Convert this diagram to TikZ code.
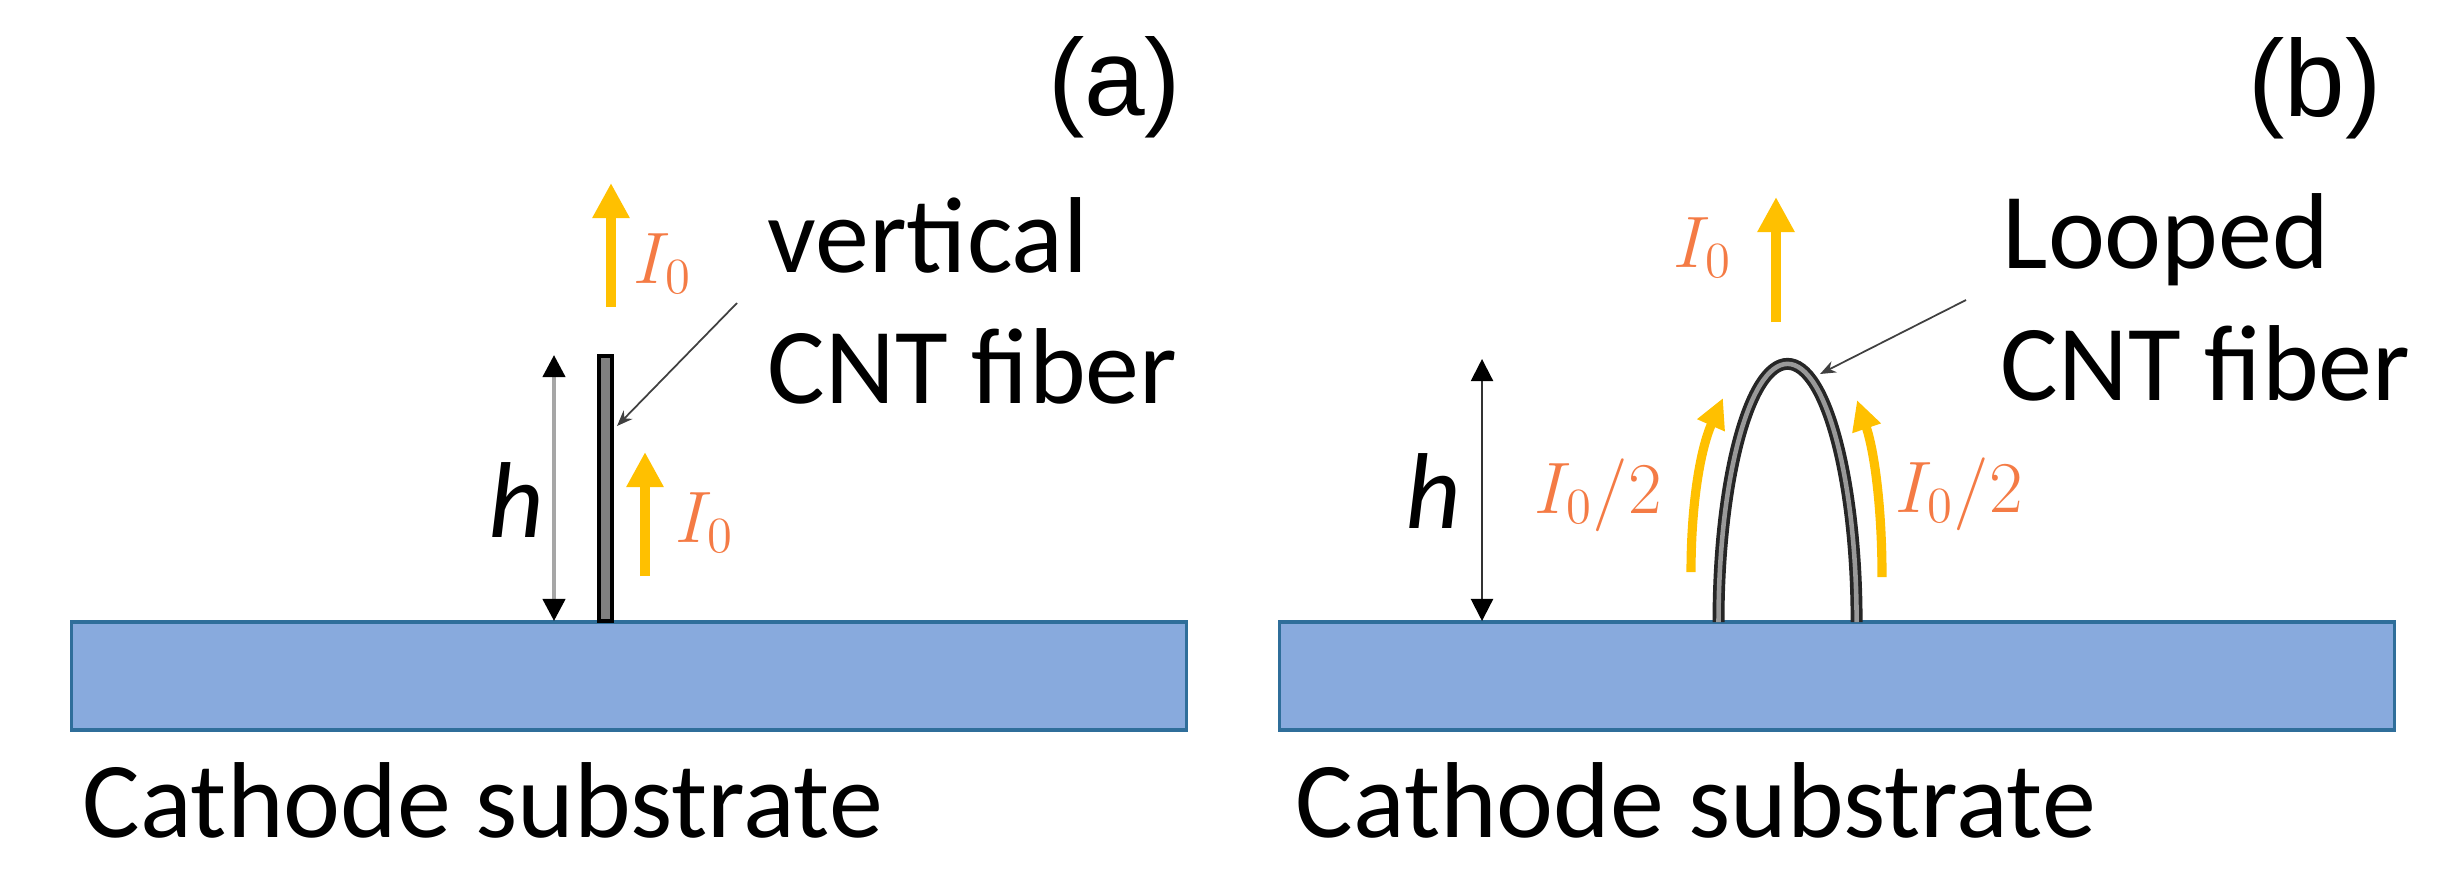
\documentclass[tikz,border=0pt]{standalone}
\usepackage[no-math]{fontspec}
\setmainfont{Carlito}
\newfontfamily\arialf{Liberation Sans}
\usetikzlibrary{arrows.meta}
\definecolor{subfill}{HTML}{88AADD}
\definecolor{subedge}{HTML}{2F6E9A}
\definecolor{gold}{HTML}{FFC000}
\definecolor{ortext}{HTML}{F47B45}
\begin{document}
\begin{tikzpicture}[x=0.01cm,y=-0.01cm,
  substrate/.style={draw=subedge, fill=subfill, line width=0.9pt, minimum width=11.14cm, minimum height=1.08cm, inner sep=0pt},
  lbl/.style={font=\fontsize{30.7}{37}\selectfont, inner sep=0pt, anchor=base west},
  hlbl/.style={font=\fontsize{30.7}{37}\selectfont\itshape, inner sep=0pt, anchor=base west},
  paneltag/.style={font=\arialf\fontsize{31}{37}\selectfont, inner sep=0pt, anchor=base east},
  cur/.style={text=ortext, font=\fontsize{21.5}{26}\selectfont, inner sep=0pt, anchor=base west},
  goldarrow/.style={draw=gold, line width=3.1pt, -{Triangle[width=10pt,length=10pt]}},
  goldcurve/.style={draw=gold, line width=2.6pt, -{Triangle[width=8pt,length=8.5pt]}},
  pointer/.style={draw=black!75, line width=0.5pt, -{Stealth[length=4.5pt,width=3.5pt]}},
  harrow/.style={line width=1.2pt, {Triangle[width=6.3pt,length=6.3pt,black]}-{Triangle[width=6.3pt,length=6.3pt,black]}},
  fiberbox/.style={draw=black, fill=black!50, line width=1pt, minimum width=0.13cm, minimum height=2.65cm, inner sep=0pt},
  loopouter/.style={line width=3.4pt, draw=black!85},
  loopinner/.style={line width=1.3pt, draw=black!40},
]
\useasboundingbox (0,0) rectangle (2437,881);

% substrates
\node[substrate] (subA) at (629,676) {};
\node[substrate] (subB) at (1837,676) {};
\node[lbl] (catA) at (82,837) {Cathode substrate};
\node[lbl] (catB) at (1295,837) {Cathode substrate};

% panel tags
\node[paneltag] (tagA) at (1182,115) {(a)};
\node[paneltag] (tagB) at (2382,116) {(b)};

% ---------- panel (a) ----------
\node[fiberbox] (fibA) at (605.5,488.5) {};

\coordinate (hAtop) at (554,355);
\coordinate (hAbot) at (554,621);
\draw[harrow, draw=black!35] (hAtop) -- (hAbot);
\node[hlbl] (hA) at (488,537) {h};

\coordinate (gA1s) at (611,307);
\coordinate (gA1e) at (611,183);
\draw[goldarrow] (gA1s) -- (gA1e);
\node[cur] (iA1) at (633,283) {$I_0$};

\coordinate (gA2s) at (645,576);
\coordinate (gA2e) at (645,452);
\draw[goldarrow] (gA2s) -- (gA2e);
\node[cur] (iA2) at (675,542) {$I_0$};

\node[lbl] (vertA) at (767,272) {vertical};
\node[lbl] (cntA) at (767,403) {CNT fiber};
\coordinate (pAs) at (737,303);
\coordinate (pAe) at (617,426);
\draw[pointer] (pAs) -- (pAe);

% ---------- panel (b) ----------
\coordinate (hBtop) at (1482,359);
\coordinate (hBbot) at (1482,621);
\draw[harrow, line width=0.6pt, draw=black!80] (hBtop) -- (hBbot);
\node[hlbl] (hB) at (1405,528) {h};

\coordinate (loopL) at (1718.5,622);
\draw[loopouter] (loopL) arc[start angle=180, end angle=0, x radius=0.69cm, y radius=2.58cm];
\draw[loopinner] (loopL) arc[start angle=180, end angle=0, x radius=0.69cm, y radius=2.58cm];

\coordinate (gB1s) at (1776,322);
\coordinate (gB1e) at (1776,197);
\draw[goldarrow] (gB1s) -- (gB1e);
\node[cur] (iB1) at (1673,267) {$I_0$};

\coordinate (gBLs) at (1691,572);
\coordinate (gBLe) at (1723,398);
\draw[goldcurve] (gBLs) .. controls (1691,505) and (1700,450) .. (gBLe);
\coordinate (gBRs) at (1882,577);
\coordinate (gBRe) at (1857,400);
\draw[goldcurve] (gBRs) .. controls (1882,505) and (1874,450) .. (gBRe);
\node[cur] (iB2) at (1534,513) {$I_0/2$};
\node[cur] (iB3) at (1895,512) {$I_0/2$};

\node[lbl] (loopB) at (2002,268) {Looped};
\node[lbl] (cntB) at (2000,400) {CNT fiber};
\coordinate (pBs) at (1966,300);
\coordinate (pBe) at (1820,374);
\draw[pointer] (pBs) -- (pBe);
\end{tikzpicture}
\end{document}
